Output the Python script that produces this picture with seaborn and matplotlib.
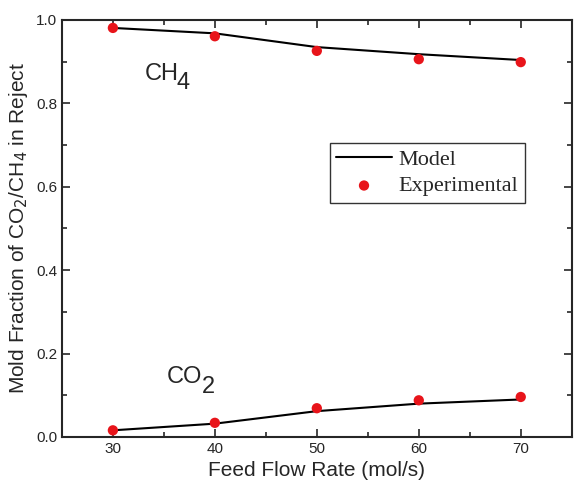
import pandas as pd
import matplotlib.pyplot as plt
import seaborn as sns
from matplotlib.ticker import MultipleLocator

# Values
feed_flow = [30, 40, 50, 60, 70]
ch4_model = [0.981, 0.968, 0.935, 0.918, 0.904]
ch4_exp = [0.981, 0.961, 0.926, 0.906, 0.899]
co2_model = [0.016, 0.032, 0.062, 0.080, 0.090]
co2_exp = [0.016, 0.034, 0.069, 0.088, 0.096]

df = pd.DataFrame({
    'Feed': feed_flow,
    'CH4 model': ch4_model,
    'CH4 exp': ch4_exp,
    'CO2 model': co2_model,
    'CO2 exp': co2_exp,
})

sns.set_style('ticks')
plt.rcParams['font.family'] = ['Liberation Sans', 'DejaVu Sans']

fig = plt.figure(figsize=(5.84, 5.0), dpi=100)
ax = fig.add_axes([0.106, 0.126, 0.873, 0.834])

# model curves
sns.lineplot(data=df, x='Feed', y='CH4 model', color='black', lw=1.5, ax=ax, label='Model')
sns.lineplot(data=df, x='Feed', y='CO2 model', color='black', lw=1.5, ax=ax)

# experimental points
sns.scatterplot(data=df, x='Feed', y='CH4 exp', color='#e8141a', s=55, edgecolor='none',
                ax=ax, label='Experimental', zorder=3)
sns.scatterplot(data=df, x='Feed', y='CO2 exp', color='#e8141a', s=55, edgecolor='none',
                ax=ax, zorder=3)

# species labels, Origin style with full-size lowered subscripts
ax.annotate('CH', (33.1, 0.857), fontsize=17)
ax.annotate('4', (33.1, 0.857), xytext=(23, -7), textcoords='offset points', fontsize=17)
ax.annotate('CO', (35.3, 0.129), fontsize=17)
ax.annotate('2', (35.3, 0.129), xytext=(25, -7), textcoords='offset points', fontsize=17)

ax.set_xlim(25, 75)
ax.set_ylim(0, 1.0)
ax.xaxis.set_major_locator(MultipleLocator(10))
ax.xaxis.set_minor_locator(MultipleLocator(5))
ax.yaxis.set_major_locator(MultipleLocator(0.2))
ax.yaxis.set_minor_locator(MultipleLocator(0.1))
ax.yaxis.set_major_formatter(plt.FormatStrFormatter('%.1f'))
ax.tick_params(which='both', direction='in', top=True, right=True, labelsize=11, width=1.2)
ax.tick_params(which='major', length=6)
ax.tick_params(which='minor', length=3.5)
for sp in ax.spines.values():
    sp.set_linewidth(1.5)

ax.set_xlabel('Feed Flow Rate (mol/s)', fontsize=15)
ax.set_ylabel(r'Mold Fraction of CO$_2$/CH$_4$ in Reject', fontsize=15)

leg = ax.legend(loc='upper left', bbox_to_anchor=(0.525, 0.705), frameon=True, fancybox=False,
                edgecolor='black', prop={'family': 'Liberation Serif', 'size': 16},
                handlelength=2.5, borderpad=0.3, labelspacing=0.25, handletextpad=0.3,
                borderaxespad=0)
leg.get_frame().set_linewidth(1.0)

fig.savefig('out.png', dpi=100)
